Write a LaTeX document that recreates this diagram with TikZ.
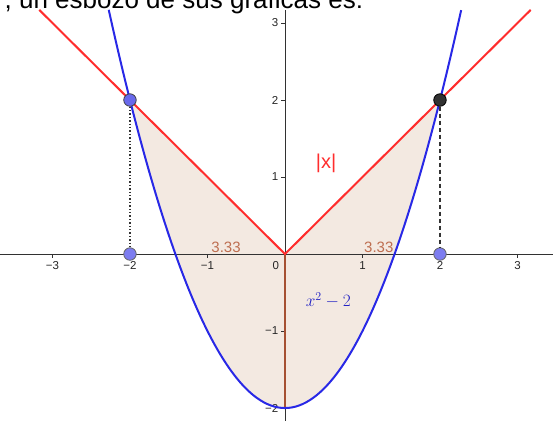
\documentclass[tikz,border=0pt]{standalone}
\usepackage{fontspec}
\setmainfont{Liberation Sans}
\definecolor{regionfill}{RGB}{243,233,225}
\definecolor{redcurve}{RGB}{255,45,45}
\definecolor{bluecurve}{RGB}{40,40,230}
\definecolor{browncol}{RGB}{165,80,50}
\definecolor{labelbrown}{RGB}{190,110,80}
\definecolor{ptblue}{RGB}{105,105,235}
\definecolor{ptlav}{RGB}{125,125,240}
\definecolor{ptdark}{RGB}{50,50,50}
\definecolor{axiscol}{RGB}{50,50,50}
\begin{document}
\begin{tikzpicture}[x=77.5pt,y=77pt,
  axisline/.style={draw=axiscol, line width=0.9pt},
  tickmark/.style={draw=axiscol, line width=0.7pt},
  ticklabel/.style={font=\fontsize{11.5}{13}\selectfont, text=black!85, inner sep=1pt},
  curveR/.style={draw=redcurve, line width=2pt},
  curveB/.style={draw=bluecurve, line width=2pt},
  segbrown/.style={draw=browncol, line width=1.4pt},
  ptnode/.style={circle, inner sep=0pt, minimum size=12.5pt, line width=0.8pt},
  areatext/.style={text=labelbrown, font=\fontsize{15}{17}\selectfont, inner sep=0pt}]
\useasboundingbox (-3.677,-2.169) rectangle (3.458,3.299);
% title text (cut at top, as in the reference)
\node[anchor=base west, inner sep=0pt, font=\fontsize{26}{30}\selectfont] (title) at (-3.62,3.19) {, un esbozo de sus gráficas es:};
% region
\fill[regionfill] (-2,2) -- (0,0) -- (2,2) -- plot[domain=2:-2, samples=81] (\x,{\x*\x-2}) -- cycle;
% axes
\draw[axisline] (-3.677,0) -- (3.458,0);
\draw[axisline] (0,3.17) -- (0,-2.169);
\foreach \t/\l in {-3/−3,-2/−2,-1/−1,1/1,2/2,3/3}{
  \draw[tickmark] (\t,0) -- (\t,-0.045);
  \node[ticklabel, anchor=north] (xl\t) at (\t,-0.08) {\l};
}
\node[ticklabel, anchor=north east] (xl0) at (-0.06,-0.08) {0};
\foreach \t/\l in {-2/−2,-1/−1,1/1,2/2,3/3}{
  \draw[tickmark] (0,\t) -- (-0.045,\t);
  \node[ticklabel, anchor=east] (yl\t) at (-0.07,\t) {\l};
}
% brown segment
\draw[segbrown] (0,0) -- (0,-2);
% curves
\draw[curveR] (-3.17,3.17) -- (0,0) -- (3.17,3.17);
\draw[curveB] plot[domain=-2.274:2.274, samples=101, smooth] (\x,{\x*\x-2});
% points
\node[ptnode, fill=ptblue, draw=black!75] (A) at (-2,2) {};
\node[ptnode, fill=ptdark, draw=black] (B) at (2,2) {};
\node[ptnode, fill=ptlav, draw=black!60] (C) at (-2,0) {};
\node[ptnode, fill=ptlav, draw=black!60] (D) at (2,0) {};
\draw[dotted, line width=1.4pt, black!80] (A) -- (C);
\draw[line width=1.4pt, black!80, dash pattern=on 4pt off 3pt] (B) -- (D);
% labels
\node[areatext] (a1) at (-0.76,0.09) {3.33};
\node[areatext] (a2) at (1.21,0.09) {3.33};
\node[text=redcurve, font=\fontsize{20}{22}\selectfont] (lx) at (0.53,1.18) {|x|};
\node[text=bluecurve!85!black, font=\fontsize{17}{19}\selectfont] (lp) at (0.56,-0.6) {$x^2-2$};
\end{tikzpicture}
\end{document}
